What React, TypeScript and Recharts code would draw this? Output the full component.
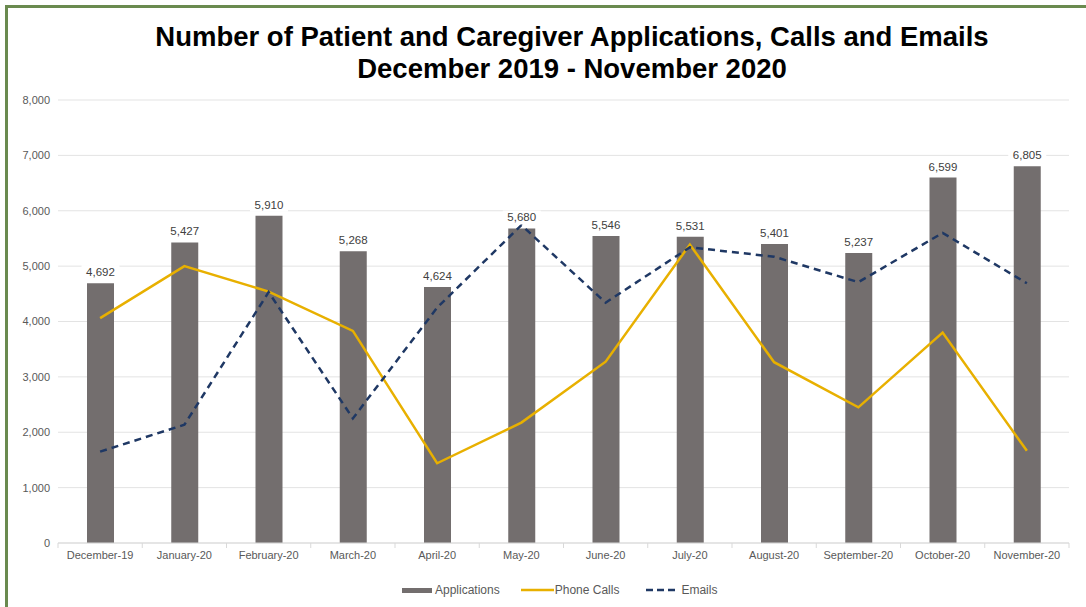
import React from "react";
import { ComposedChart, Bar, Line, XAxis, YAxis, CartesianGrid, LabelList } from "recharts";

const months = [
  "December-19",
  "January-20",
  "February-20",
  "March-20",
  "April-20",
  "May-20",
  "June-20",
  "July-20",
  "August-20",
  "September-20",
  "October-20",
  "November-20",
];
const applications = [4692, 5427, 5910, 5268, 4624, 5680, 5546, 5531, 5401, 5237, 6599, 6805];
const phoneCalls = [4060, 5000, 4540, 3830, 1440, 2175, 3275, 5390, 3265, 2450, 3800, 1665];
const emails = [1650, 2135, 4530, 2250, 4250, 5740, 4340, 5340, 5170, 4710, 5600, 4690];
const yTicks = [0, 1000, 2000, 3000, 4000, 5000, 6000, 7000, 8000];

const data = months.map((month, i) => ({
  month,
  applications: applications[i],
  phoneCalls: phoneCalls[i],
  emails: emails[i],
}));

const FONT = '"Liberation Sans", Arial, sans-serif';
const BAR_COLOR = "#736e6e";
const PHONE_COLOR = "#e8b000";
const EMAIL_COLOR = "#1f3864";
const HALF_BAND = (1069 - 58) / months.length / 2;

const MonthTick = (props: any) => {
  const { x, y, payload, index } = props;
  const axisY = y - 8;
  return (
    <g>
      {index === 0 && (
        <line x1={x - HALF_BAND} x2={x - HALF_BAND} y1={axisY} y2={axisY + 5} stroke="#d9d9d9" />
      )}
      <line x1={x + HALF_BAND} x2={x + HALF_BAND} y1={axisY} y2={axisY + 5} stroke="#d9d9d9" />
      <text x={x} y={y} dy="0.71em" textAnchor="middle" fontSize={11} fill="#595959" fontFamily={FONT}>
        {payload.value}
      </text>
    </g>
  );
};

const BarValueLabel = (props: any) => {
  const { x, y, width, value } = props;
  const cx = x + width / 2;
  const text = Number(value).toLocaleString("en-US");
  const w = text.length * 6.4 + 6;
  return (
    <g>
      <rect x={cx - w / 2} y={y - 18} width={w} height={14} fill="#ffffff" />
      <text x={cx} y={y - 7} textAnchor="middle" fontSize={11.5} fill="#404040" fontFamily={FONT}>
        {text}
      </text>
    </g>
  );
};

const legendItem: React.CSSProperties = { display: "flex", alignItems: "center" };

export default function App() {
  return (
    <div
      style={{
        position: "absolute",
        left: 0,
        top: 0,
        width: 1086,
        height: 607,
        overflow: "hidden",
        background: "#ffffff",
        fontFamily: FONT,
      }}
    >
      <div
        style={{
          position: "absolute",
          left: 5,
          top: 5,
          width: 1200,
          height: 700,
          border: "3px solid #6a8a4f",
        }}
      />
      <div
        style={{
          position: "absolute",
          left: 72,
          top: 21,
          width: 1000,
          textAlign: "center",
          fontSize: 27.5,
          fontWeight: "bold",
          lineHeight: "32px",
          color: "#000000",
          whiteSpace: "nowrap",
        }}
      >
        <div>Number of Patient and Caregiver Applications, Calls and Emails</div>
        <div>December 2019 - November 2020</div>
      </div>
      <div style={{ position: "absolute", left: 0, top: 0 }}>
        <ComposedChart
          width={1086}
          height={607}
          data={data}
          margin={{ top: 100, right: 17, bottom: 34, left: 0 }}
        >
          <CartesianGrid vertical={false} stroke="#e3e3e3" />
          <XAxis
            dataKey="month"
            height={30}
            axisLine={{ stroke: "#d9d9d9" }}
            tickLine={false}
            tick={<MonthTick />}
            interval={0}
          />
          <YAxis
            width={58}
            domain={[0, 8000]}
            ticks={yTicks}
            axisLine={false}
            tickLine={false}
            tick={{ fontSize: 11, fill: "#595959", fontFamily: FONT }}
            tickFormatter={(v: number) => v.toLocaleString("en-US")}
          />
          <Bar dataKey="applications" name="Applications" fill={BAR_COLOR} barSize={27} isAnimationActive={false}>
            <LabelList dataKey="applications" content={<BarValueLabel />} />
          </Bar>
          <Line
            type="linear"
            dataKey="phoneCalls"
            name="Phone Calls"
            stroke={PHONE_COLOR}
            strokeWidth={2.5}
            dot={false}
            activeDot={false}
            isAnimationActive={false}
          />
          <Line
            type="linear"
            dataKey="emails"
            name="Emails"
            stroke={EMAIL_COLOR}
            strokeWidth={2.5}
            strokeDasharray="7 5"
            dot={false}
            activeDot={false}
            isAnimationActive={false}
          />
        </ComposedChart>
      </div>
      <div
        style={{
          position: "absolute",
          left: 402,
          top: 583,
          display: "flex",
          alignItems: "center",
          fontSize: 12,
          color: "#595959",
          whiteSpace: "nowrap",
        }}
      >
        <div style={legendItem}>
          <div style={{ width: 30, height: 5, background: BAR_COLOR, marginRight: 3 }} />
          <span>Applications</span>
        </div>
        <div style={{ ...legendItem, marginLeft: 21 }}>
          <svg width={33} height={6} style={{ marginRight: 1 }}>
            <line x1={0} x2={33} y1={3} y2={3} stroke={PHONE_COLOR} strokeWidth={2.5} />
          </svg>
          <span>Phone Calls</span>
        </div>
        <div style={{ ...legendItem, marginLeft: 27 }}>
          <svg width={30} height={6} style={{ marginRight: 5 }}>
            <line x1={0} x2={30} y1={3} y2={3} stroke={EMAIL_COLOR} strokeWidth={2.5} strokeDasharray="7 4" />
          </svg>
          <span>Emails</span>
        </div>
      </div>
    </div>
  );
}
